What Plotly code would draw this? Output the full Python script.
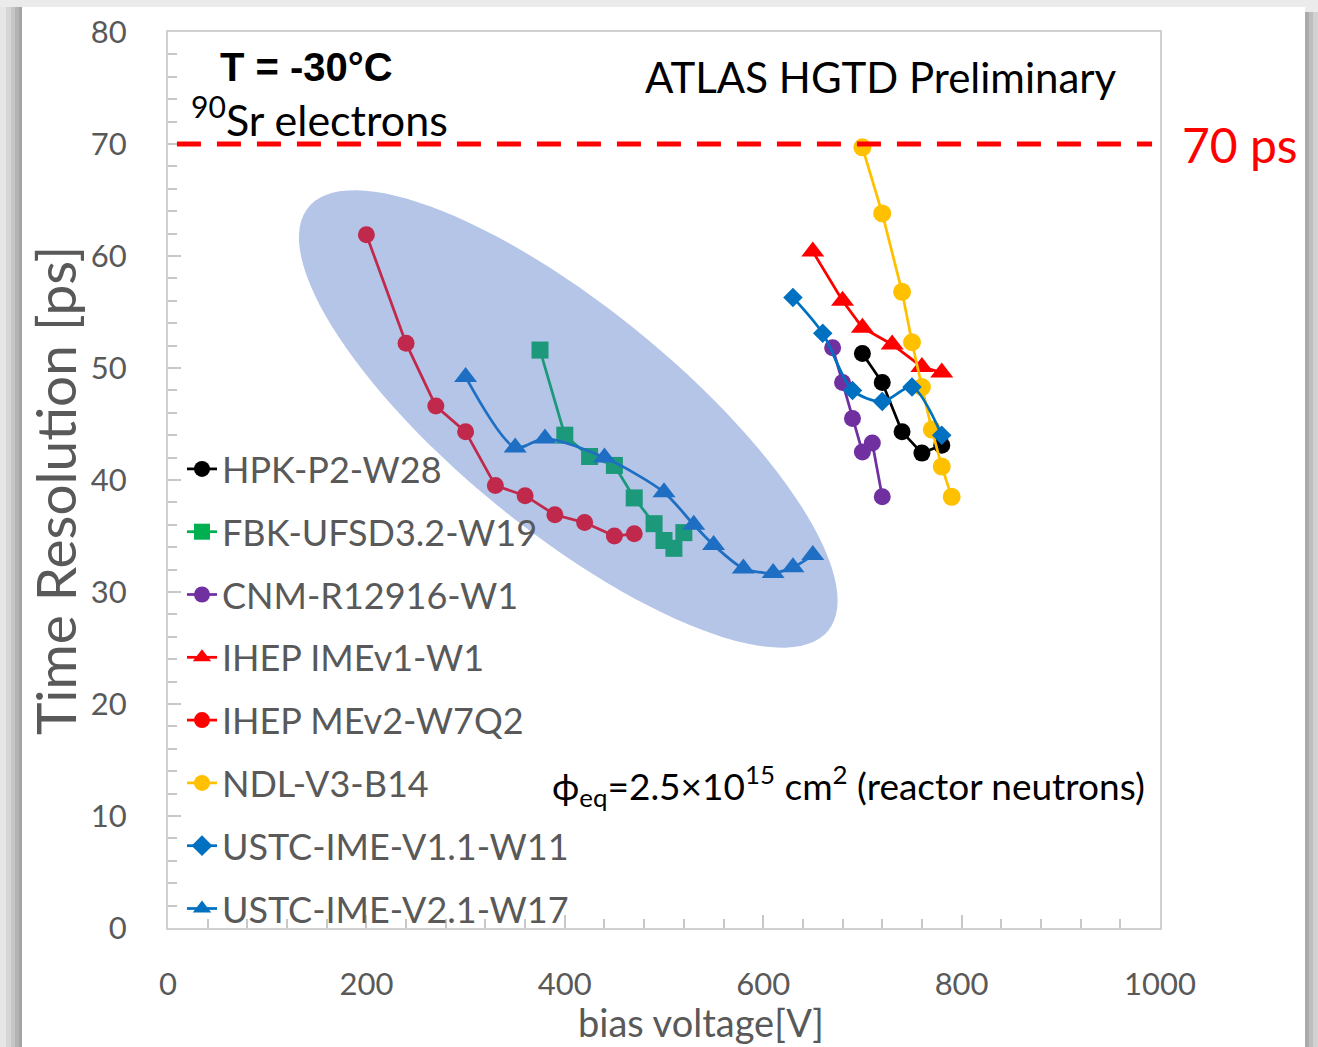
import numpy as np
import plotly.graph_objects as go

# ---------------- data ----------------
series_names = ["HPK-P2-W28", "FBK-UFSD3.2-W19", "CNM-R12916-W1", "IHEP IMEv1-W1",
                "IHEP MEv2-W7Q2", "NDL-V3-B14", "USTC-IME-V1.1-W11", "USTC-IME-V2.1-W17"]

hpk_v = [700, 720, 740, 760, 780]
hpk_t = [51.3, 48.7, 44.3, 42.4, 43.1]

fbk_v = [375, 400, 425, 450, 470, 490, 500, 510, 520]
fbk_t = [51.6, 44.0, 42.1, 41.3, 38.4, 36.1, 34.6, 33.9, 35.3]

cnm_v = [670, 680, 690, 700, 710, 720]
cnm_t = [51.8, 48.7, 45.5, 42.5, 43.3, 38.5]

imev1_v = [650, 680, 700, 730, 760, 780]
imev1_t = [60.4, 56.0, 53.6, 52.1, 50.1, 49.6]

mev2_v = [200, 240, 270, 300, 330, 360, 390, 420, 450, 470]
mev2_t = [61.9, 52.2, 46.6, 44.3, 39.5, 38.6, 36.9, 36.2, 35.0, 35.2]

ndl_v = [700, 720, 740, 750, 760, 770, 780, 790]
ndl_t = [69.7, 63.8, 56.8, 52.3, 48.3, 44.5, 41.2, 38.5]

ustc11_v = [630, 660, 690, 720, 750, 780]
ustc11_t = [56.3, 53.1, 48.0, 47.0, 48.3, 44.0]

ustc21_v = [300, 350, 380, 440, 500, 530, 550, 580, 610, 630, 650]
ustc21_t = [49.2, 42.9, 43.7, 42.0, 38.9, 36.0, 34.2, 32.1, 31.7, 32.2, 33.3]

target_ps = 70
x_ticks = [0, 200, 400, 600, 800, 1000]
y_ticks = [0, 10, 20, 30, 40, 50, 60, 70, 80]

# highlighted region (ellipse) in data units: centre and two conjugate semi-axis vectors
ell_center = (403.5, 45.45)
ell_u = (262.0, -18.9)
ell_w = (-71.2, -7.74)

# ---------------- layout geometry ----------------
W, H = 1318, 1047
L, R, T, B = 168, 1160, 32, 928


def px(x, y):
    return (x - L) / (R - L), (B - y) / (B - T)


GRAY = "#595959"
FONT = "Lato"

fig = go.Figure()

styles = [
    # name, x, y, plot colour, legend colour, symbol, size, shape
    (series_names[0], hpk_v, hpk_t, "#000000", "#000000", "circle", 17, "linear"),
    (series_names[1], fbk_v, fbk_t, "#1C987A", "#00B050", "square", 17, "linear"),
    (series_names[2], cnm_v, cnm_t, "#7030A0", "#7030A0", "circle", 17, "linear"),
    (series_names[3], imev1_v, imev1_t, "#FF0000", "#FF0000", "triangle-up", 20, "linear"),
    (series_names[4], mev2_v, mev2_t, "#C0294B", "#FF0000", "circle", 17, "linear"),
    (series_names[5], ndl_v, ndl_t, "#FFC000", "#FFC000", "circle", 18, "linear"),
    (series_names[6], ustc11_v, ustc11_t, "#0070C0", "#0070C0", "diamond", 15, "spline"),
    (series_names[7], ustc21_v, ustc21_t, "#1E6FC3", "#0070C0", "triangle-up", 20, "spline"),
]

for i, (name, xv, yv, col, lcol, sym, size, shape) in enumerate(styles):
    fig.add_trace(go.Scatter(
        x=xv, y=yv, mode="lines+markers", name=name, showlegend=False,
        line=dict(color=col, width=2.75, shape=shape, smoothing=0.8),
        marker=dict(color=col, symbol=sym, size=size, line=dict(width=0)),
    ))

for i, (name, xv, yv, col, lcol, sym, size, shape) in enumerate(styles):
    fig.add_trace(go.Scatter(
        x=[None], y=[None], mode="lines+markers", name=name, legendgroup=f"g{i}",
        line=dict(color=lcol, width=2.75),
        marker=dict(color=lcol, symbol=sym, size=16),
    ))

# ---------------- shapes ----------------
shapes = []
# page background / slide shadow
x0, y0 = px(22, 7)
x1, y1 = px(1305, 1060)
shapes.append(dict(type="rect", xref="paper", yref="paper", x0=x0, y0=y1, x1=x1, y1=y0,
                   fillcolor="white", line=dict(width=0), layer="below"))
left_bands = [(0, 6, "#E6E6E6"), (6, 11, "#D6D6D6"), (11, 15, "#C6C6C6"), (15, 19, "#B4B4B4"), (19, 22, "#A4A4A4")]
for a, b, c in left_bands:
    xa, ya = px(a, 7)
    xb, yb = px(b, 1060)
    shapes.append(dict(type="rect", xref="paper", yref="paper", x0=xa, y0=yb, x1=xb, y1=ya,
                       fillcolor=c, line=dict(width=0), layer="below"))
right_bands = [(1305, 1309, "#AAAAAA"), (1309, 1313, "#BEBEBE"), (1313, 1318, "#D2D2D2")]
for a, b, c in right_bands:
    xa, ya = px(a, 12)
    xb, yb = px(b, 1060)
    shapes.append(dict(type="rect", xref="paper", yref="paper", x0=xa, y0=yb, x1=xb, y1=ya,
                       fillcolor=c, line=dict(width=0), layer="below"))

# ellipse
t = np.linspace(0, 2 * np.pi, 120)
ex = ell_center[0] + np.cos(t) * ell_u[0] + np.sin(t) * ell_w[0]
ey = ell_center[1] + np.cos(t) * ell_u[1] + np.sin(t) * ell_w[1]
path = "M " + " L ".join(f"{a:.3f},{b:.3f}" for a, b in zip(ex, ey)) + " Z"
shapes.append(dict(type="path", xref="x", yref="y", path=path, fillcolor="#B4C5E7",
                   line=dict(width=0), layer="below"))

# 70 ps target line
shapes.append(dict(type="line", xref="x", yref="y", x0=9, x1=992, y0=target_ps, y1=target_ps,
                   line=dict(color="#FF0000", width=5, dash="24px,16px"), layer="above"))

# ---------------- annotations ----------------
ann = []


def add_text(text, x, y, size, color="black", family=FONT, xanchor="center", yanchor="middle", angle=0):
    xx, yy = px(x, y)
    ann.append(dict(text=text, x=xx, y=yy, xref="paper", yref="paper", showarrow=False,
                    xanchor=xanchor, yanchor=yanchor, textangle=angle,
                    font=dict(size=size, color=color, family=family)))


add_text("<b>T = -30°C</b>", 306, 67, 40, family="Liberation Sans")
add_text("<sup>90</sup>Sr electrons", 319, 116, 43)
add_text("ATLAS HGTD Preliminary", 881, 77, 42)
add_text("ϕ<sub>eq</sub>=2.5×10<sup>15</sup> cm<sup>2</sup> (reactor neutrons)", 848, 785, 37)
add_text("70 ps", 1180, 145, 48, color="#FF0000", xanchor="left")
add_text("bias voltage[V]", 701, 1022, 38, color=GRAY)
add_text("Time Resolution [ps]", 55, 491, 55, color=GRAY, angle=-90)

fig.update_layout(
    width=W, height=H,
    margin=dict(l=L, r=W - R, t=T, b=H - B),
    paper_bgcolor="#EBEBEB", plot_bgcolor="rgba(0,0,0,0)",
    font=dict(family=FONT, color=GRAY),
    shapes=shapes, annotations=ann,
    showlegend=True,
    legend=dict(x=px(182, 0)[0], y=px(0, 439)[1], xanchor="left", yanchor="top",
                bgcolor="rgba(0,0,0,0)", font=dict(size=36, color=GRAY, family=FONT),
                traceorder="grouped", tracegroupgap=13, itemwidth=30),
)

fig.update_xaxes(
    range=[0, 1000], tickvals=x_ticks, ticktext=[str(v) for v in x_ticks],
    showgrid=False, zeroline=False,
    showline=True, linecolor="#D0D0D0", linewidth=2, mirror=True,
    ticks="inside", ticklen=13, tickwidth=2, tickcolor="#C8C8C8",
    minor=dict(dtick=40, ticks="inside", ticklen=9, tickwidth=1.5, tickcolor="#C8C8C8", showgrid=False),
    tickfont=dict(size=31, color=GRAY, family=FONT), ticklabelstandoff=28,
)
fig.update_yaxes(
    range=[0, 80], tickvals=y_ticks, ticktext=[str(v) for v in y_ticks],
    showgrid=False, zeroline=False,
    showline=True, linecolor="#D0D0D0", linewidth=2, mirror=True,
    ticks="inside", ticklen=13, tickwidth=2, tickcolor="#C8C8C8",
    minor=dict(dtick=2, ticks="inside", ticklen=9, tickwidth=1.5, tickcolor="#C8C8C8", showgrid=False),
    tickfont=dict(size=31, color=GRAY, family=FONT), ticklabelstandoff=33,
)

fig.write_html("out.html")
